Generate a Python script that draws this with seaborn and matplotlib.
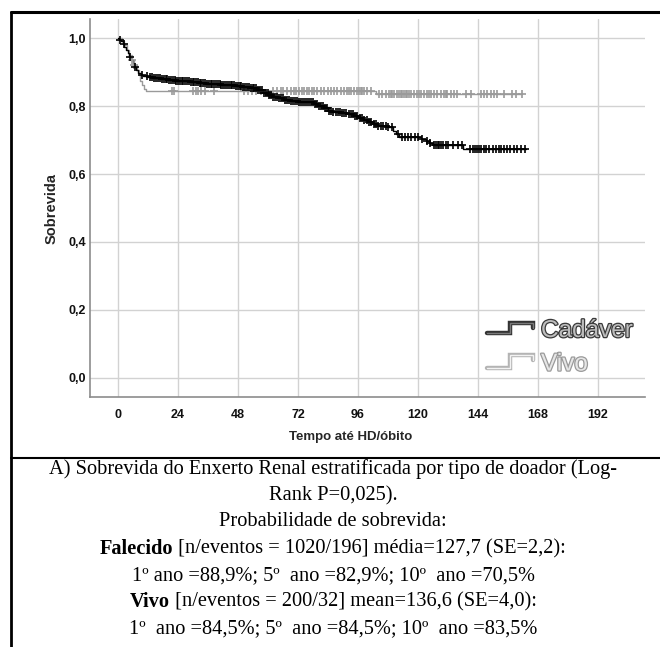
import numpy as np
import pandas as pd
import matplotlib
matplotlib.use("Agg")
import matplotlib.pyplot as plt
import matplotlib.patheffects as pe
from matplotlib.lines import Line2D
import seaborn as sns

# ---------------- data ----------------
groups = ["Cadáver", "Vivo"]

cad_event_t = [0, 0.5, 1.2, 1.8, 2.5, 3.2, 3.8, 4.5, 5.2, 5.8, 6.5, 7.2, 8.0, 9.0, 10.0,
               12, 14, 17, 20, 23, 26, 29, 32, 35, 38, 41, 44, 47, 50, 53, 56, 58, 60,
               62, 64, 66, 69, 72, 75, 78, 80, 82, 84, 86, 89, 92, 94, 96, 98, 100, 102,
               104, 106, 108, 110, 111, 112.5, 121, 123, 124.5, 126, 138]
cad_event_s = [1.0, 0.995, 0.99, 0.982, 0.975, 0.965, 0.957, 0.945, 0.935, 0.926, 0.915,
               0.906, 0.898, 0.892, 0.888, 0.886, 0.883, 0.880, 0.878, 0.875, 0.873, 0.870,
               0.868, 0.866, 0.865, 0.863, 0.861, 0.859, 0.857, 0.853, 0.848, 0.838, 0.832,
               0.827, 0.823, 0.819, 0.816, 0.813, 0.811, 0.806, 0.800, 0.793, 0.786, 0.782,
               0.779, 0.776, 0.772, 0.766, 0.760, 0.754, 0.748, 0.742, 0.740, 0.737, 0.727,
               0.717, 0.708, 0.703, 0.697, 0.690, 0.685, 0.673]
cad_last_t = 163.0
cad_censor_t = [0.8, 2.2, 4.6, 6.9, 9.4, 11.5, 12.6, 13.4, 14.3, 15.1, 15.9, 16.8, 17.5,
                18.2, 19.0, 19.7, 20.5, 21.1, 21.8, 22.6, 23.3, 24.0, 24.8, 25.5, 26.1,
                26.9, 27.6, 28.3, 29.0, 29.8, 30.4, 31.2, 31.9, 32.6, 33.3, 34.1, 34.8,
                35.5, 36.2, 37.0, 37.7, 38.4, 39.1, 39.9, 40.6, 41.3, 42.0, 42.8, 43.5,
                44.2, 45.0, 45.7, 46.4, 47.1, 47.9, 48.6, 49.3, 50.1, 50.8, 51.5, 52.3,
                53.0, 53.8, 54.5, 55.3, 56.0, 56.8, 57.5, 58.3, 59.0, 59.8, 60.5, 61.3,
                62.0, 62.8, 63.6, 64.3, 65.1, 65.9, 66.7, 67.4, 68.2, 69.0, 69.8, 70.6,
                71.4, 72.2, 73.0, 73.8, 74.6, 75.4, 76.2, 77.0, 77.8, 78.6, 79.4, 80.3,
                81.1, 81.9, 82.8, 83.6, 84.4, 85.3, 86.1, 87.0, 87.8, 88.7, 89.5, 90.4,
                91.3, 92.2, 93.0, 93.9, 94.8, 95.7, 96.6, 97.5, 98.4, 99.4, 100.3, 101.2,
                102.2, 103.1, 104.1, 105.0, 106.0, 107.0, 108.0, 109.5, 112.0, 113.5,
                114.8, 116.0, 117.3, 118.6, 120.0, 121.4, 123.7, 124.8, 126.3, 127.0,
                127.8, 128.5, 129.3, 130.0, 131.0, 132.0, 134.0, 136.0, 137.5, 140.8,
                141.8, 142.8, 143.6, 144.4, 145.3, 146.2, 147.0, 148.5, 150.0, 151.0,
                152.5, 153.3, 154.5, 155.6, 156.8, 158.5, 159.5, 161.0, 162.8]

vivo_event_t = [0, 1.5, 2.5, 3.5, 4.5, 5.5, 6.5, 7.5, 8.2, 8.8, 9.5, 10.5, 11.2, 103.0]
vivo_event_s = [1.0, 0.99, 0.98, 0.965, 0.95, 0.935, 0.92, 0.905, 0.89, 0.875, 0.862,
                0.85, 0.845, 0.835]
vivo_last_t = 161.7
vivo_censor_t = [5.5, 6.5, 21.5, 22.5, 30.0, 31.0, 32.0, 33.0, 34.9, 38.2, 50.5, 52.0,
                 53.5, 55.0, 57.0, 62.1, 63.5, 65.0, 66.0, 67.5, 69.3, 70.3, 71.2, 72.5,
                 73.5, 74.5, 75.5, 76.5, 77.5, 78.5, 79.5, 81.0, 82.5, 84.0, 85.0, 86.3,
                 87.7, 89.0, 90.3, 91.7, 92.3, 93.0, 94.3, 95.7, 96.3, 97.0, 97.7, 98.3,
                 99.7, 101.0, 104.3, 105.7, 107.0, 108.3, 109.0, 109.7, 110.3, 111.7,
                 112.3, 113.0, 113.7, 114.3, 115.0, 115.7, 116.3, 117.0, 118.3, 119.7,
                 120.3, 121.0, 122.3, 123.7, 124.3, 125.0, 126.3, 127.7, 129.0, 130.3,
                 131.0, 131.7, 133.0, 134.3, 135.7, 139.0, 141.0, 145.0, 146.3, 147.7,
                 149.0, 150.3, 151.7, 154.3, 157.7, 159.0, 161.7]

x_ticks = [0, 24, 48, 72, 96, 120, 144, 168, 192]
y_ticks = [0.0, 0.2, 0.4, 0.6, 0.8, 1.0]
x_label = "Tempo até HD/óbito"
y_label = "Sobrevida"

caption_lines = [
    [("A) Sobrevida do Enxerto Renal estratificada por tipo de doador (Log-", "normal")],
    [("Rank P=0,025).", "normal")],
    [("Probabilidade de sobrevida:", "normal")],
    [("Falecido", "bold"), (" [n/eventos = 1020/196] média=127,7 (SE=2,2):", "normal")],
    [("1º ano =88,9%; 5º  ano =82,9%; 10º  ano =70,5%", "normal")],
    [("Vivo", "bold"), (" [n/eventos = 200/32] mean=136,6 (SE=4,0):", "normal")],
    [("1º  ano =84,5%; 5º  ano =84,5%; 10º  ano =83,5%", "normal")],
]

# ---------------- style ----------------
sns.set_theme(style="white")
plt.rcParams['font.family'] = ['Liberation Sans', 'DejaVu Sans']

W, H = 660, 647
fig = plt.figure(figsize=(W / 100, H / 100), dpi=100)
fig.patch.set_facecolor("white")
ax = fig.add_axes([90 / W, 250 / H, 555 / W, 378 / H])


def step_frame(t, s, last):
    return pd.DataFrame({"t": list(t) + [last], "s": list(s) + [s[-1]]})


def censor_frame(t, s, c):
    t = np.asarray(t)
    s = np.asarray(s)
    idx = np.searchsorted(t, np.asarray(c), side="right") - 1
    return pd.DataFrame({"t": c, "s": s[idx]})


series = [
    (vivo_event_t, vivo_event_s, vivo_last_t, vivo_censor_t, "#9a9a9a"),
    (cad_event_t, cad_event_s, cad_last_t, cad_censor_t, "#000000"),
]
for et, es, lt, ct, col in series:
    sns.lineplot(data=step_frame(et, es, lt), x="t", y="s", drawstyle="steps-post",
                 sort=False, estimator=None, color=col, lw=1.0, ax=ax)
    sns.scatterplot(data=censor_frame(et, es, ct), x="t", y="s", marker="+",
                    color=col, s=40, linewidth=1.2, ax=ax, zorder=3)

ax.set_xlim(-11.2, 210.8)
ax.set_ylim(-0.056, 1.056)
ax.set_xticks(x_ticks)
ax.set_xticklabels([str(v) for v in x_ticks])
ax.set_yticks(y_ticks)
ax.set_yticklabels([f"{v:.1f}".replace(".", ",") for v in y_ticks])
ax.tick_params(axis="both", length=0, labelsize=9, colors="#111111")
ax.tick_params(axis="x", pad=9)
ax.tick_params(axis="y", pad=3)
for lab in ax.get_xticklabels() + ax.get_yticklabels():
    lab.set_fontweight("bold")
ax.grid(True, color="#d2d2d2", lw=1.0)
ax.set_axisbelow(True)
for sp in ["top", "right"]:
    ax.spines[sp].set_visible(False)
for sp in ["left", "bottom"]:
    ax.spines[sp].set_color("#8c8c8c")
    ax.spines[sp].set_linewidth(1.2)
ax.set_xlabel("")
ax.set_ylabel("")
fig.text(351 / W, 1 - 437 / H, x_label, ha="center", va="center",
         fontsize=9.5, fontweight="bold")
fig.text(52 / W, 1 - 208 / H, y_label, ha="center", va="center", rotation=90,
         fontsize=10.5, fontweight="bold")


# legend (SPSS style)
def ax_xy(px, py):
    return (px - 90) / 555, (397 - py) / 378


leg_specs = [
    ("Cadáver", 333, 323, "#333333", "#7a7a7a", "#bdbdbd", "#3a3a3a"),
    ("Vivo", 368, 355, "#b4b4b4", "#f2f2f2", "#e6e6e6", "#9a9a9a"),
]
for name, ylow, yhigh, outer, inner, fill, stroke in leg_specs:
    pts = [ax_xy(487, ylow), ax_xy(510, ylow), ax_xy(510, yhigh), ax_xy(533, yhigh),
           ax_xy(533, yhigh + 5)]
    xs, ys = zip(*pts)
    ax.plot(xs, ys, transform=ax.transAxes, color=inner, lw=1.0,
            solid_joinstyle="miter",
            path_effects=[pe.Stroke(linewidth=3.2, foreground=outer), pe.Normal()])
    tx, ty = ax_xy(541, (ylow + yhigh) / 2 + 3)
    ax.text(tx, ty, name, transform=ax.transAxes, ha="left", va="center",
            fontsize=17.5, color=fill,
            path_effects=[pe.Stroke(linewidth=1.8, foreground=stroke), pe.Normal()])

# frame lines
fig.add_artist(Line2D([11 / W, 1], [1 - 12 / H] * 2, color="black", lw=2.2,
                      transform=fig.transFigure))
fig.add_artist(Line2D([11 / W, 11 / W], [0, 1 - 12 / H], color="black", lw=2.0,
                      transform=fig.transFigure))
fig.add_artist(Line2D([11 / W, 1], [1 - 457.5 / H] * 2, color="black", lw=1.5,
                      transform=fig.transFigure))

# caption
cap_font = ['Liberation Serif', 'DejaVu Serif']
cap_size = 14.7
line_y = [469, 496, 522, 549, 576, 602, 629]
cx = 333
fig.canvas.draw()
renderer = fig.canvas.get_renderer()
for segs, py in zip(caption_lines, line_y):
    texts = []
    for txt, wt in segs:
        t = fig.text(0, 1 - py / H, txt, ha="left", va="center", fontsize=cap_size,
                     fontweight=wt, family=cap_font, color="black")
        texts.append(t)
    widths = [t.get_window_extent(renderer).width for t in texts]
    x0 = cx - sum(widths) / 2
    for t, w in zip(texts, widths):
        t.set_x(x0 / W)
        x0 += w

fig.savefig("out.png", dpi=100, facecolor="white")
